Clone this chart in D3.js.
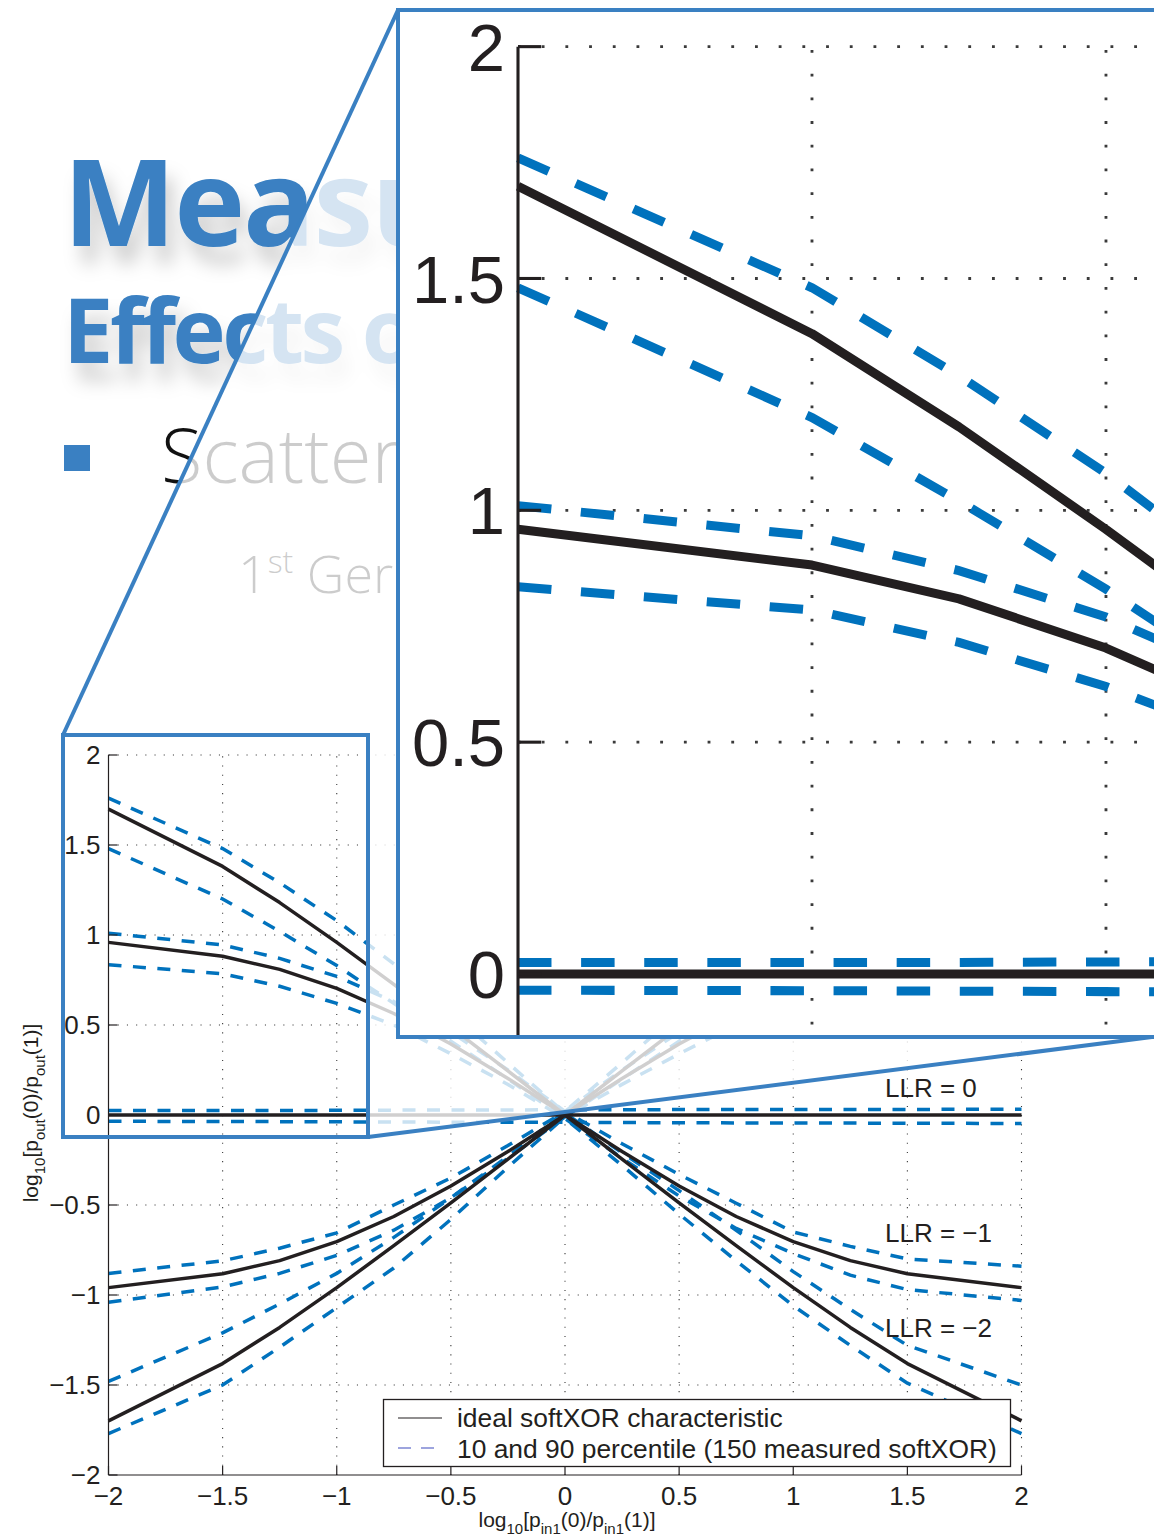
<!DOCTYPE html>
<html><head><meta charset="utf-8">
<script src="https://cdn.jsdelivr.net/npm/d3@7"></script>
<style>html,body{margin:0;padding:0;background:#fff;} svg{display:block}</style>
</head><body>
<svg id="c" width="1154" height="1539"></svg>
<script>
// ---------- data ----------
const X = [-2, -1.5, -1.25, -1, -0.75, -0.5, -0.25, 0, 0.25, 0.5, 0.75, 1, 1.25, 1.5, 2];

// ideal softXOR characteristic, one per LLR of the second input
const idealLLRm2 = [1.699, 1.381, 1.180, 0.959, 0.726, 0.488, 0.245, 0, -0.245, -0.488, -0.726, -0.959, -1.180, -1.381, -1.699];
const idealLLRm1 = [0.959, 0.882, 0.809, 0.703, 0.564, 0.394, 0.203, 0, -0.203, -0.394, -0.564, -0.703, -0.809, -0.882, -0.959];
const idealLLR0  = [0, 0, 0, 0, 0, 0, 0, 0, 0, 0, 0, 0, 0, 0, 0];
const idealLLRp1 = [-0.959, -0.882, -0.809, -0.703, -0.564, -0.394, -0.203, 0, 0.203, 0.394, 0.564, 0.703, 0.809, 0.882, 0.959];
const idealLLRp2 = [-1.699, -1.381, -1.180, -0.959, -0.726, -0.488, -0.245, 0, 0.245, 0.488, 0.726, 0.959, 1.180, 1.381, 1.699];

// 90 / 10 percentile of 150 measured softXOR
const hiLLRm2 = [1.76, 1.48, 1.29, 1.08, 0.84, 0.57, 0.29, 0.01, -0.21, -0.42, -0.64, -0.87, -1.08, -1.28, -1.50];
const loLLRm2 = [1.48, 1.20, 1.02, 0.83, 0.62, 0.41, 0.20, -0.02, -0.28, -0.55, -0.81, -1.06, -1.28, -1.49, -1.77];
const hiLLRm1 = [1.01, 0.945, 0.87, 0.77, 0.63, 0.46, 0.25, 0.02, -0.16, -0.33, -0.49, -0.65, -0.73, -0.80, -0.84];
const loLLRm1 = [0.835, 0.785, 0.715, 0.62, 0.50, 0.34, 0.17, -0.02, -0.24, -0.45, -0.63, -0.77, -0.89, -0.97, -1.03];
const hiLLR0  = [0.025, 0.025, 0.025, 0.026, 0.027, 0.028, 0.028, 0.029, 0.029, 0.030, 0.030, 0.030, 0.031, 0.031, 0.032];
const loLLR0  = [-0.035, -0.036, -0.037, -0.038, -0.039, -0.040, -0.040, -0.041, -0.042, -0.043, -0.044, -0.045, -0.045, -0.046, -0.047];
const hiLLRp1 = [-0.88, -0.81, -0.74, -0.655, -0.50, -0.35, -0.17, 0.02, 0.25, 0.46, 0.63, 0.77, 0.87, 0.94, 1.01];
const loLLRp1 = [-1.04, -0.955, -0.88, -0.78, -0.64, -0.46, -0.24, -0.01, 0.17, 0.34, 0.50, 0.62, 0.715, 0.785, 0.835];
const hiLLRp2 = [-1.48, -1.21, -1.05, -0.88, -0.68, -0.46, -0.23, 0.02, 0.29, 0.57, 0.84, 1.08, 1.29, 1.48, 1.76];
const loLLRp2 = [-1.77, -1.50, -1.29, -1.07, -0.85, -0.58, -0.29, -0.01, 0.20, 0.41, 0.62, 0.83, 1.02, 1.20, 1.48];

const xTicks = [-2, -1.5, -1, -0.5, 0, 0.5, 1, 1.5, 2];
const xTickLabels = ['\u22122', '\u22121.5', '\u22121', '\u22120.5', '0', '0.5', '1', '1.5', '2'];
const yTicks = [-2, -1.5, -1, -0.5, 0, 0.5, 1, 1.5, 2];
const yTickLabels = ['\u22122', '\u22121.5', '\u22121', '\u22120.5', '0', '0.5', '1', '1.5', '2'];

const llrLabels = [{text: 'LLR = 0', v: 0}, {text: 'LLR = \u22121', v: -1}, {text: 'LLR = \u22122', v: -2}];
const legendLabels = ['ideal softXOR characteristic', '10 and 90 percentile (150 measured softXOR)'];

// ---------- setup ----------
const svg = d3.select('#c');
const BLUE = '#3a80c2', LINEBLUE = '#0072bd', INK = '#231f20';
const FONT = '"Liberation Sans", Arial, Helvetica, sans-serif';
const defs = svg.append('defs');

const fl = defs.append('filter').attr('id', 'shadow')
  .attr('x', '-10%').attr('y', '-40%').attr('width', '130%').attr('height', '200%');
fl.append('feGaussianBlur').attr('in', 'SourceAlpha').attr('stdDeviation', 9).attr('result', 'b');
fl.append('feOffset').attr('in', 'b').attr('dx', 8).attr('dy', 18).attr('result', 'o');
fl.append('feFlood').attr('flood-color', '#000').attr('flood-opacity', 0.18).attr('result', 'c');
fl.append('feComposite').attr('in', 'c').attr('in2', 'o').attr('operator', 'in').attr('result', 's');
const fm = fl.append('feMerge');
fm.append('feMergeNode').attr('in', 's');
fm.append('feMergeNode').attr('in', 'SourceGraphic');

defs.append('clipPath').attr('id', 'slideclip').append('rect')
  .attr('x', 0).attr('y', 0).attr('width', 398).attr('height', 720);

svg.append('rect').attr('width', 1154).attr('height', 1539).attr('fill', '#fff');

// ---------- slide background ----------
const slide = svg.append('g').attr('clip-path', 'url(#slideclip)')
  .attr('font-family', '"Open Sans", "Noto Sans", sans-serif');
slide.append('text').attr('x', 63).attr('y', 246).attr('font-size', 120).attr('font-weight', 700)
  .attr('letter-spacing', -2).attr('fill', BLUE).attr('filter', 'url(#shadow)').text('Measu');
slide.append('text').attr('x', 63).attr('y', 363).attr('font-size', 90).attr('font-weight', 700)
  .attr('letter-spacing', -3.5).attr('fill', BLUE).attr('filter', 'url(#shadow)').text('Effects o');
slide.append('rect').attr('x', 64).attr('y', 445).attr('width', 26).attr('height', 26).attr('fill', BLUE);
slide.append('text').attr('x', 161).attr('y', 483).attr('font-size', 76).attr('font-weight', 300)
  .attr('fill', '#111').text('Scatter');
const gen = slide.append('text').attr('x', 238).attr('y', 593).attr('font-size', 52).attr('font-weight', 300).attr('fill', '#111');
gen.append('tspan').text('1');
gen.append('tspan').attr('font-size', 32).attr('dy', -20).text('st');
gen.append('tspan').attr('dy', 20).text(' Ger');

// ---------- chart ----------
const x = d3.scaleLinear().domain([-2, 2]).range([108.5, 1021.5]);
const y = d3.scaleLinear().domain([-2, 2]).range([1475, 755]);

const dashedSeries = [hiLLRm2, loLLRm2, hiLLRm1, loLLRm1, hiLLR0, loLLR0, hiLLRp1, loLLRp1, hiLLRp2, loLLRp2];
const idealSeries = [idealLLRm2, idealLLRm1, idealLLR0, idealLLRp1, idealLLRp2];
const line = d3.line().x((d, i) => x(X[i])).y(d => y(d));

function drawPlot(g, full) {
  // grid
  const grid = g.append('g').attr('stroke', '#3a3a3a').attr('stroke-width', 1.1).attr('stroke-dasharray', '1.1,8.1');
  xTicks.filter(t => t > -2).forEach(t => grid.append('line')
    .attr('x1', x(t)).attr('x2', x(t)).attr('y1', y(-2)).attr('y2', y(2)));
  yTicks.filter(t => t > -2).forEach(t => grid.append('line')
    .attr('y1', y(t)).attr('y2', y(t)).attr('x1', x(-2)).attr('x2', x(2)));

  // series
  dashedSeries.forEach(s => g.append('path').attr('d', line(s)).attr('fill', 'none')
    .attr('stroke', LINEBLUE).attr('stroke-width', 3.5).attr('stroke-dasharray', '13,11.5'));
  idealSeries.forEach(s => g.append('path').attr('d', line(s)).attr('fill', 'none')
    .attr('stroke', INK).attr('stroke-width', 3.5).attr('stroke-linejoin', 'round'));

  // axes
  const ax = g.append('g').attr('stroke', INK).attr('stroke-width', 1.2);
  ax.append('line').attr('x1', x(-2)).attr('x2', x(-2)).attr('y1', y(-2)).attr('y2', y(2));
  ax.append('line').attr('x1', x(-2)).attr('x2', x(2)).attr('y1', y(-2)).attr('y2', y(-2));
  yTicks.forEach(t => ax.append('line').attr('x1', x(-2)).attr('x2', x(-2) + 9).attr('y1', y(t)).attr('y2', y(t)));
  xTicks.forEach(t => ax.append('line').attr('x1', x(t)).attr('x2', x(t)).attr('y1', y(-2)).attr('y2', y(-2) - 9));

  const tl = g.append('g').attr('font-family', FONT).attr('font-size', 26).attr('fill', INK);
  yTicks.forEach((t, i) => {
    if (!full && t < 0) return;
    tl.append('text').attr('x', x(-2) - (full ? 8 : 5)).attr('y', y(t)).attr('dy', '0.36em')
      .attr('text-anchor', 'end').text(yTickLabels[i]);
  });
  if (!full) return;
  xTicks.forEach((t, i) => tl.append('text').attr('x', x(t)).attr('y', 1505)
    .attr('text-anchor', 'middle').text(xTickLabels[i]));

  // axis titles
  const xl = g.append('text').attr('x', 567).attr('y', 1527).attr('text-anchor', 'middle')
    .attr('font-family', FONT).attr('font-size', 21).attr('fill', INK);
  const parts = (t, tag) => {
    const p = [['log', 0], ['10', 1], ['[p', 0], [tag, 1], ['(0)/p', 0], [tag, 1], ['(1)]', 0]];
    let prev = 0;
    p.forEach(([s, sub]) => {
      t.append('tspan').attr('font-size', sub ? 15 : 21).attr('dy', (sub - prev) * 7).text(s);
      prev = sub;
    });
  };
  parts(xl, 'in1');
  const yl = g.append('text').attr('transform', 'translate(38,1113) rotate(-90)').attr('text-anchor', 'middle')
    .attr('font-family', FONT).attr('font-size', 21).attr('fill', INK);
  parts(yl, 'out');

  // LLR labels
  const ll = g.append('g').attr('font-family', FONT).attr('font-size', 26).attr('fill', INK);
  const llrY = {0: 1097, '-1': 1242, '-2': 1337};
  llrLabels.forEach(d => ll.append('text').attr('x', 885).attr('y', llrY[d.v]).text(d.text));

  // legend
  const lg = g.append('g');
  lg.append('rect').attr('x', 383.5).attr('y', 1399.5).attr('width', 627).attr('height', 67)
    .attr('fill', '#fff').attr('stroke', INK).attr('stroke-width', 1.3);
  lg.append('line').attr('x1', 398).attr('x2', 442).attr('y1', 1418).attr('y2', 1418)
    .attr('stroke', INK).attr('stroke-width', 1.2);
  lg.append('line').attr('x1', 398).attr('x2', 442).attr('y1', 1448).attr('y2', 1448)
    .attr('stroke', '#7d86d4').attr('stroke-width', 1.4).attr('stroke-dasharray', '13,10');
  legendLabels.forEach((t, i) => lg.append('text').attr('x', 457).attr('y', 1427 + i * 31)
    .attr('font-family', FONT).attr('font-size', 26.4).attr('fill', INK).text(t));
}

drawPlot(svg.append('g'), true);

// ---------- zoom overlay ----------
svg.append('path')
  .attr('d', 'M63,735 L398,10 L1160,10 L1160,1037 L368,1137 L63,1137 Z M63,735 L368,735 L368,1137 L63,1137 Z')
  .attr('fill', '#fff').attr('fill-opacity', 0.79).attr('fill-rule', 'evenodd');
svg.append('rect').attr('x', 63).attr('y', 735).attr('width', 305).attr('height', 402)
  .attr('fill', 'none').attr('stroke', BLUE).attr('stroke-width', 4);
svg.append('line').attr('x1', 63).attr('y1', 735).attr('x2', 398).attr('y2', 10)
  .attr('stroke', BLUE).attr('stroke-width', 4);
svg.append('line').attr('x1', 368).attr('y1', 1137).attr('x2', 1160).attr('y2', 1036)
  .attr('stroke', BLUE).attr('stroke-width', 4);

// magnified panel
const s = 2.576;
const tx = 518 - x(-2) * s, ty = 974 - y(0) * s;
defs.append('clipPath').attr('id', 'pclip').append('rect')
  .attr('x', 400).attr('y', 12).attr('width', 760).attr('height', 1023);
svg.append('rect').attr('x', 398).attr('y', 10).attr('width', 800).attr('height', 1027).attr('fill', '#fff');
const pg = svg.append('g').attr('clip-path', 'url(#pclip)')
  .append('g').attr('transform', `translate(${tx},${ty}) scale(${s})`);
drawPlot(pg, false);
svg.append('rect').attr('x', 398).attr('y', 10).attr('width', 800).attr('height', 1027)
  .attr('fill', 'none').attr('stroke', BLUE).attr('stroke-width', 4);
</script>
</body></html>
